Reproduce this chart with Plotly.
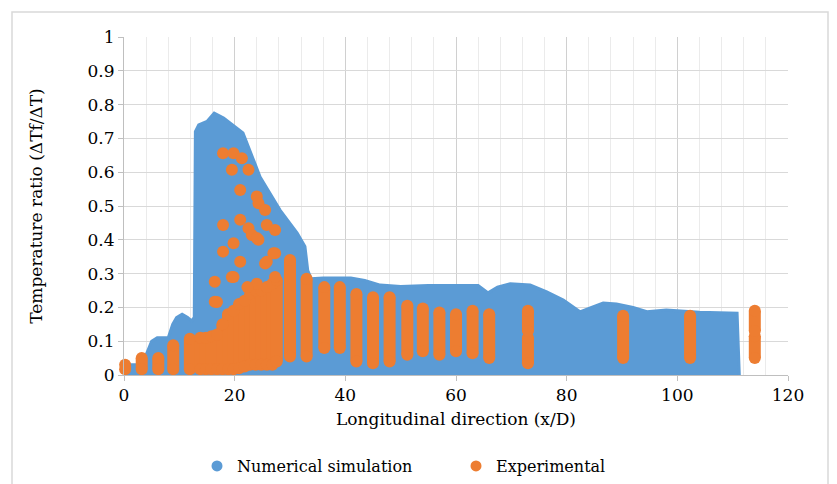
import plotly.graph_objects as go

# ---- Numerical simulation: upper envelope of the dense point cloud ----
sim_x = [0, 3, 4, 5, 6, 8, 8.8, 9.5, 10.5, 11.5, 12.2, 12.7, 12.9, 13.5, 15, 16.3, 18,
         21.5, 24.6, 28.2, 31.3, 32.7, 33.2, 33.8, 36, 41, 43.5, 46.3, 50, 55, 64,
         65.8, 67.5, 69.8, 73.4, 76.4, 79.4, 82.4, 84.5, 86.6, 89, 92, 94.5, 98, 104,
         110.8, 111.2]
sim_top = [0.03, 0.03, 0.06, 0.10, 0.11, 0.11, 0.15, 0.17, 0.18, 0.17, 0.16, 0.17, 0.72,
           0.74, 0.75, 0.775, 0.76, 0.716, 0.586, 0.488, 0.42, 0.38, 0.31, 0.285, 0.287,
           0.287, 0.28, 0.266, 0.262, 0.265, 0.265, 0.243, 0.26, 0.27, 0.266, 0.246,
           0.222, 0.187, 0.20, 0.213, 0.21, 0.20, 0.187, 0.192, 0.186, 0.183, 0.0]

# ---- Experimental: vertical columns of points (x, lowest, highest) ----
col_x = [0.2, 3.2, 6.2, 8.9, 11.9, 13.8, 14.8, 15.8, 16.8, 17.8, 18.8, 19.8, 20.8, 21.8,
         22.8, 23.8, 24.8, 25.8, 26.8, 27.6, 30.0, 33.0, 36.2, 39.0, 42.0, 45.0, 48.0,
         51.2, 54.0, 57.0, 60.0, 63.0, 66.0, 73.0, 73.0, 90.2, 102.3, 114.0, 114.0]
col_lo = [0.017, 0.017, 0.017, 0.017, 0.017, 0.017, 0.017, 0.017, 0.017, 0.017, 0.017,
          0.017, 0.02, 0.025, 0.03, 0.03, 0.03, 0.03, 0.03, 0.04, 0.055, 0.055, 0.08,
          0.08, 0.04, 0.035, 0.04, 0.06, 0.07, 0.06, 0.07, 0.064, 0.05, 0.035, 0.13,
          0.05, 0.05, 0.05, 0.13]
col_hi = [0.03, 0.05, 0.05, 0.088, 0.107, 0.11, 0.11, 0.115, 0.12, 0.15, 0.18, 0.19,
          0.21, 0.22, 0.24, 0.25, 0.25, 0.26, 0.27, 0.28, 0.34, 0.285, 0.26, 0.26, 0.24,
          0.23, 0.23, 0.205, 0.197, 0.185, 0.18, 0.19, 0.18, 0.11, 0.19, 0.175, 0.175,
          0.115, 0.19]

# ---- Experimental: scattered individual points ----
exp_x = [17.9, 19.8, 21.3, 22.5, 19.5, 21.0, 24.0, 24.3, 25.5, 21.0, 17.9, 22.5, 25.8,
         27.3, 23.1, 24.3, 19.8, 17.9, 27.3, 25.5, 21.0, 19.8, 16.4, 27.3, 16.4, 16.8,
         19.5, 24.0, 22.3, 24.0, 25.8, 27.0]
exp_y = [0.656, 0.656, 0.641, 0.607, 0.607, 0.547, 0.528, 0.508, 0.488, 0.459, 0.444,
         0.434, 0.444, 0.429, 0.414, 0.40, 0.39, 0.365, 0.36, 0.33, 0.335, 0.29, 0.276,
         0.29, 0.217, 0.216, 0.29, 0.27, 0.26, 0.405, 0.335, 0.36]

BLUE = "#5B9BD5"
ORANGE = "#ED7D31"
FONT = "DejaVu Serif"
MS = 12

fig = go.Figure()

fig.add_trace(go.Scatter(x=sim_x, y=sim_top, mode="lines", fill="tozeroy",
                         line=dict(color=BLUE, width=3),
                         fillcolor=BLUE, showlegend=False, hoverinfo="skip"))

cx, cy = [], []
for x, lo, hi in zip(col_x, col_lo, col_hi):
    cx += [x, x, None]
    cy += [lo, hi, None]
fig.add_trace(go.Scatter(x=cx, y=cy, mode="lines+markers",
                         line=dict(color=ORANGE, width=MS),
                         marker=dict(color=ORANGE, size=MS),
                         cliponaxis=False, showlegend=False))
fig.add_trace(go.Scatter(x=exp_x, y=exp_y, mode="markers",
                         marker=dict(color=ORANGE, size=MS),
                         cliponaxis=False, showlegend=False))

fig.add_trace(go.Scatter(x=[None], y=[None], mode="markers", name="Numerical simulation",
                         marker=dict(color=BLUE, size=11)))
fig.add_trace(go.Scatter(x=[None], y=[None], mode="markers", name="Experimental",
                         marker=dict(color=ORANGE, size=11)))

L, R, T, B = 124, 49, 37, 109
W, H = 837, 484
pw, ph = W - L - R, H - T - B

def px_x(p):
    return (p - L) / pw

def px_y(p):
    return (H - B - p) / ph

fig.add_shape(type="rect", xref="paper", yref="paper",
              x0=px_x(12), x1=px_x(828), y0=px_y(520), y1=px_y(12),
              line=dict(color="#d9d9d9", width=1.5), layer="below")

fig.update_layout(
    width=W, height=H,
    margin=dict(l=L, r=R, t=T, b=B, autoexpand=False),
    paper_bgcolor="white", plot_bgcolor="white",
    font=dict(family=FONT, size=17, color="#000000"),
    legend=dict(orientation="h", x=0.5, xanchor="center", y=px_y(449), yanchor="top",
                font=dict(family=FONT, size=16), itemwidth=30, tracegroupgap=0,
                entrywidth=214, entrywidthmode="pixels"),
    xaxis=dict(range=[0, 120], dtick=20, tick0=0, showgrid=True, gridcolor="#d0d0d0",
               gridwidth=1, automargin=False,
               minor=dict(dtick=4, tick0=0, showgrid=True, gridcolor="#ebebeb", gridwidth=1),
               showline=True, linecolor="#bfbfbf", linewidth=1,
               ticks="outside", ticklen=5, tickcolor="#bfbfbf",
               zeroline=False,
               title=dict(text="Longitudinal direction (x/D)", standoff=8,
                          font=dict(family=FONT, size=17)),
               tickfont=dict(family=FONT, size=17)),
    yaxis=dict(range=[0, 1], dtick=0.1, tick0=0, showgrid=True, gridcolor="#d9d9d9",
               gridwidth=1, automargin=False,
               showline=True, linecolor="#bfbfbf", linewidth=1,
               ticks="outside", ticklen=5, tickcolor="#bfbfbf",
               zeroline=False,
               title=dict(text="Temperature ratio (ΔTf/ΔT)", standoff=40,
                          font=dict(family=FONT, size=17)),
               tickfont=dict(family=FONT, size=17)),
)

fig.write_html("out.html")
